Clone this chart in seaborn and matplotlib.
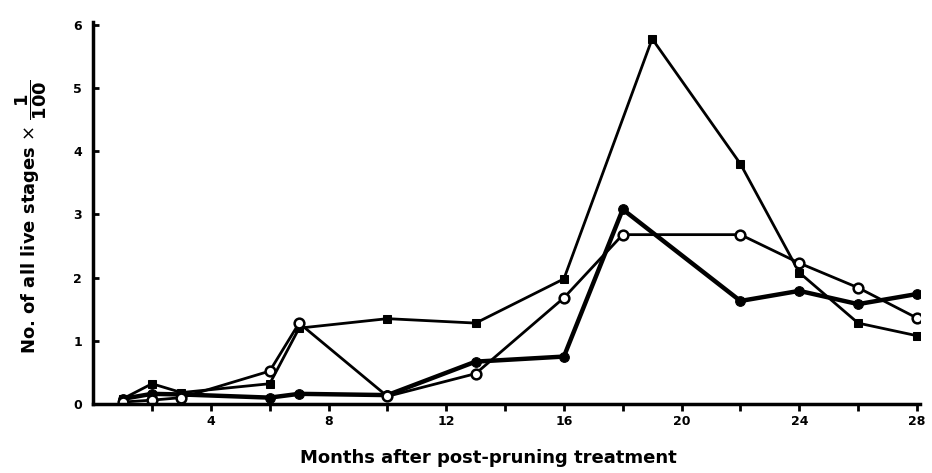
# Live stages after post-pruning treatment: three treatments over 28 months

import pandas as pd
import matplotlib.pyplot as plt
import seaborn as sns

# Data (counts x 1/100)
months_sq = [1, 2, 3, 6, 7, 10, 13, 16, 19, 22, 24, 26, 28]
vals_sq = [0.08, 0.32, 0.18, 0.32, 1.2, 1.35, 1.28, 1.98, 5.78, 3.8, 2.08, 1.28, 1.08]

months_circ = [1, 2, 3, 6, 7, 10, 13, 16, 18, 22, 24, 26, 28]
vals_filled = [0.08, 0.16, 0.15, 0.1, 0.16, 0.14, 0.67, 0.75, 3.08, 1.63, 1.79, 1.58, 1.74]
vals_open = [0.03, 0.06, 0.1, 0.52, 1.28, 0.12, 0.48, 1.68, 2.68, 2.68, 2.23, 1.84, 1.36]

x_ticks = list(range(2, 29, 2))
x_labels = ['' if t % 4 else str(t) for t in x_ticks]
y_ticks = [0, 1, 2, 3, 4, 5, 6]

df_sq = pd.DataFrame({'Month': months_sq, 'Count': vals_sq})
df_filled = pd.DataFrame({'Month': months_circ, 'Count': vals_filled})
df_open = pd.DataFrame({'Month': months_circ, 'Count': vals_open})

sns.set_style('ticks', {'text.color': 'black', 'axes.labelcolor': 'black',
                        'xtick.color': 'black', 'ytick.color': 'black',
                        'axes.edgecolor': 'black'})
plt.rcParams['font.family'] = ['DejaVu Sans']
plt.rcParams['mathtext.fontset'] = 'dejavusans'

fig = plt.figure(figsize=(9.32, 4.73), dpi=100)
ax = fig.add_axes([0.1, 0.146, 0.887, 0.808])

sns.lineplot(data=df_sq, x='Month', y='Count', ax=ax, sort=False, color='black',
             linewidth=2.0, marker='s', markersize=5.5, markerfacecolor='black',
             markeredgecolor='black')
sns.lineplot(data=df_filled, x='Month', y='Count', ax=ax, sort=False, color='black',
             linewidth=3.2, marker='o', markersize=7, markerfacecolor='black',
             markeredgecolor='black')
sns.lineplot(data=df_open, x='Month', y='Count', ax=ax, sort=False, color='black',
             linewidth=2.0, marker='o', markersize=7, markerfacecolor='white',
             markeredgecolor='black', markeredgewidth=1.8)

ax.set_xlim(0, 28.1)
ax.set_ylim(0, 6.05)
ax.set_xticks(x_ticks)
ax.set_xticklabels(x_labels)
ax.set_yticks(y_ticks)
ax.tick_params(axis='x', direction='out', length=5, width=2, labelsize=9, pad=3)
ax.tick_params(axis='y', direction='in', length=4, width=2, labelsize=9, pad=8)
for lab in ax.get_xticklabels() + ax.get_yticklabels():
    lab.set_fontweight('bold')

sns.despine(ax=ax)
ax.spines['left'].set_linewidth(2.5)
ax.spines['bottom'].set_linewidth(2.5)

ax.set_xlabel('Months after post-pruning treatment', fontsize=13, fontweight='bold')
ax.xaxis.set_label_coords(0.478, -0.118)
ax.set_ylabel(r'No. of all live stages $\times\ \dfrac{\mathbf{1}}{\mathbf{100}}$', fontsize=13,
              fontweight='bold')
ax.yaxis.set_label_coords(-0.054, 0.49)

plt.savefig('out.png', dpi=100)
